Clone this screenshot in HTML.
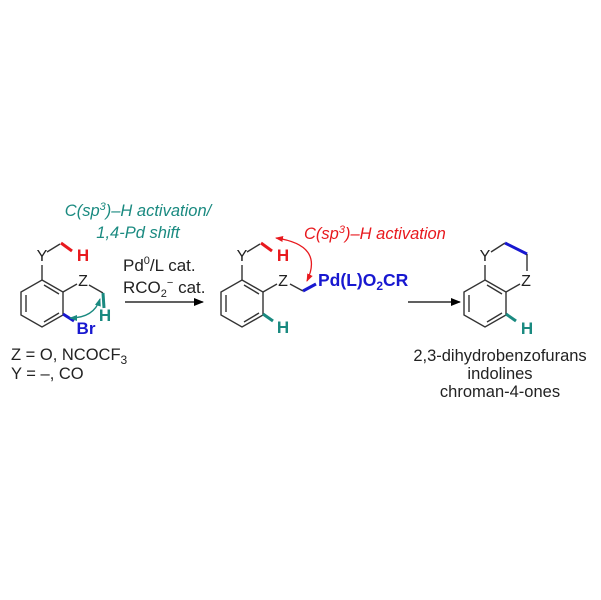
<!DOCTYPE html><html><head><style>body{margin:0;background:#fff}svg{display:block}text{font-family:"Liberation Sans",sans-serif}</style></head><body>
<svg width="601" height="600" viewBox="0 0 601 600" xmlns="http://www.w3.org/2000/svg">
<defs>
<marker id="ab" markerWidth="10" markerHeight="8" refX="9" refY="4" orient="auto" markerUnits="userSpaceOnUse"><path d="M0,0L10,4L0,8z" fill="#000"/></marker>
<marker id="at" markerWidth="8" markerHeight="6" refX="7" refY="3" orient="auto-start-reverse" markerUnits="userSpaceOnUse"><path d="M0,0L8,3L0,6z" fill="#1a8a80"/></marker>
<marker id="ar" markerWidth="8" markerHeight="6" refX="7" refY="3" orient="auto-start-reverse" markerUnits="userSpaceOnUse"><path d="M0,0L8,3L0,6z" fill="#e8191e"/></marker>
<g id="ring" stroke="#333" stroke-width="1.4" fill="none">
<path d="M42,280L63,292L63,315L42,327L21,315L21,292Z"/>
<path d="M26,295L26,312M44,322L59,313M44,285L59,294"/>
<path d="M42,280L42,265"/>
</g>
</defs>
<!-- molecule 1 -->
<use href="#ring"/>
<text x="42" y="261" font-size="16" text-anchor="middle" fill="#222">Y</text>
<path d="M47,252L60,244" stroke="#333" stroke-width="1.4"/>
<path d="M61,243L72,251" stroke="#e8191e" stroke-width="3"/>
<text x="83" y="261" font-size="17" font-weight="bold" text-anchor="middle" fill="#e8191e">H</text>
<path d="M63,292L77,284" stroke="#333" stroke-width="1.4"/>
<text x="83" y="286" font-size="16" text-anchor="middle" fill="#222">Z</text>
<path d="M89,285L103,293" stroke="#333" stroke-width="1.4"/>
<path d="M103,293L104,308" stroke="#1a8a80" stroke-width="3"/>
<text x="105" y="321" font-size="17" font-weight="bold" text-anchor="middle" fill="#1a8a80">H</text>
<path d="M63,314L74,321" stroke="#1818d0" stroke-width="3"/>
<text x="86" y="334" font-size="17" font-weight="bold" text-anchor="middle" fill="#1818d0">Br</text>
<path d="M70,318Q94,318 100,299" stroke="#1a8a80" stroke-width="1.3" fill="none" marker-start="url(#at)" marker-end="url(#at)"/>
<text x="11" y="360" font-size="16.5" fill="#222">Z = O, NCOCF<tspan font-size="12" dy="4">3</tspan></text>
<text x="11" y="379" font-size="16.5" fill="#222">Y = –, CO</text>
<text x="138" y="216" font-size="16.5" font-style="italic" text-anchor="middle" fill="#1a8a80">C(sp<tspan font-size="11" dy="-6">3</tspan><tspan dy="6">)–H activation/</tspan></text>
<text x="138" y="238" font-size="16.5" font-style="italic" text-anchor="middle" fill="#1a8a80">1,4-Pd shift</text>
<text x="123" y="271" font-size="17" fill="#222">Pd<tspan font-size="11" dy="-7">0</tspan><tspan dy="7">/L cat.</tspan></text>
<text x="123" y="293" font-size="17" fill="#222">RCO<tspan font-size="11" dy="4">2</tspan><tspan font-size="11" dy="-11">−</tspan><tspan dy="7"> cat.</tspan></text>
<path d="M125,302L203,302" stroke="#000" stroke-width="1.3" marker-end="url(#ab)"/>
<!-- molecule 2 -->
<use href="#ring" x="200"/>
<text x="242" y="261" font-size="16" text-anchor="middle" fill="#222">Y</text>
<path d="M247,252L260,244" stroke="#333" stroke-width="1.4"/>
<path d="M261,243L272,251" stroke="#e8191e" stroke-width="3"/>
<text x="283" y="261" font-size="17" font-weight="bold" text-anchor="middle" fill="#e8191e">H</text>
<path d="M263,292L277,284" stroke="#333" stroke-width="1.4"/>
<text x="283" y="286" font-size="16" text-anchor="middle" fill="#222">Z</text>
<path d="M290,284L303,291" stroke="#333" stroke-width="1.4"/>
<path d="M303,291L316,284" stroke="#1818d0" stroke-width="3"/>
<text x="318" y="286" font-size="17.5" font-weight="bold" fill="#1818d0">Pd(L)O<tspan font-size="12" dy="4">2</tspan><tspan dy="-4">CR</tspan></text>
<path d="M263,314L273,321" stroke="#1a8a80" stroke-width="3"/>
<text x="283" y="333" font-size="17" font-weight="bold" text-anchor="middle" fill="#1a8a80">H</text>
<path d="M276,238Q324,245 307,281" stroke="#e8191e" stroke-width="1.3" fill="none" marker-start="url(#ar)" marker-end="url(#ar)"/>
<text x="304" y="239" font-size="16.5" font-style="italic" fill="#e8191e">C(sp<tspan font-size="11" dy="-6">3</tspan><tspan dy="6">)–H activation</tspan></text>
<path d="M408,302L460,302" stroke="#000" stroke-width="1.3" marker-end="url(#ab)"/>
<!-- molecule 3 -->
<use href="#ring" x="443"/>
<text x="485" y="261" font-size="16" text-anchor="middle" fill="#222">Y</text>
<path d="M491,252L505,243" stroke="#333" stroke-width="1.4"/>
<path d="M505,243L527,254" stroke="#1818d0" stroke-width="3"/>
<path d="M527,254L527,271" stroke="#333" stroke-width="1.4"/>
<text x="526" y="286" font-size="16" text-anchor="middle" fill="#222">Z</text>
<path d="M506,292L520,284" stroke="#333" stroke-width="1.4"/>
<path d="M506,314L516,321" stroke="#1a8a80" stroke-width="3"/>
<text x="527" y="334" font-size="17" font-weight="bold" text-anchor="middle" fill="#1a8a80">H</text>
<text x="500" y="361" font-size="16.5" text-anchor="middle" fill="#222">2,3-dihydrobenzofurans</text>
<text x="500" y="379" font-size="16.5" text-anchor="middle" fill="#222">indolines</text>
<text x="500" y="397" font-size="16.5" text-anchor="middle" fill="#222">chroman-4-ones</text>
</svg>
</body></html>
